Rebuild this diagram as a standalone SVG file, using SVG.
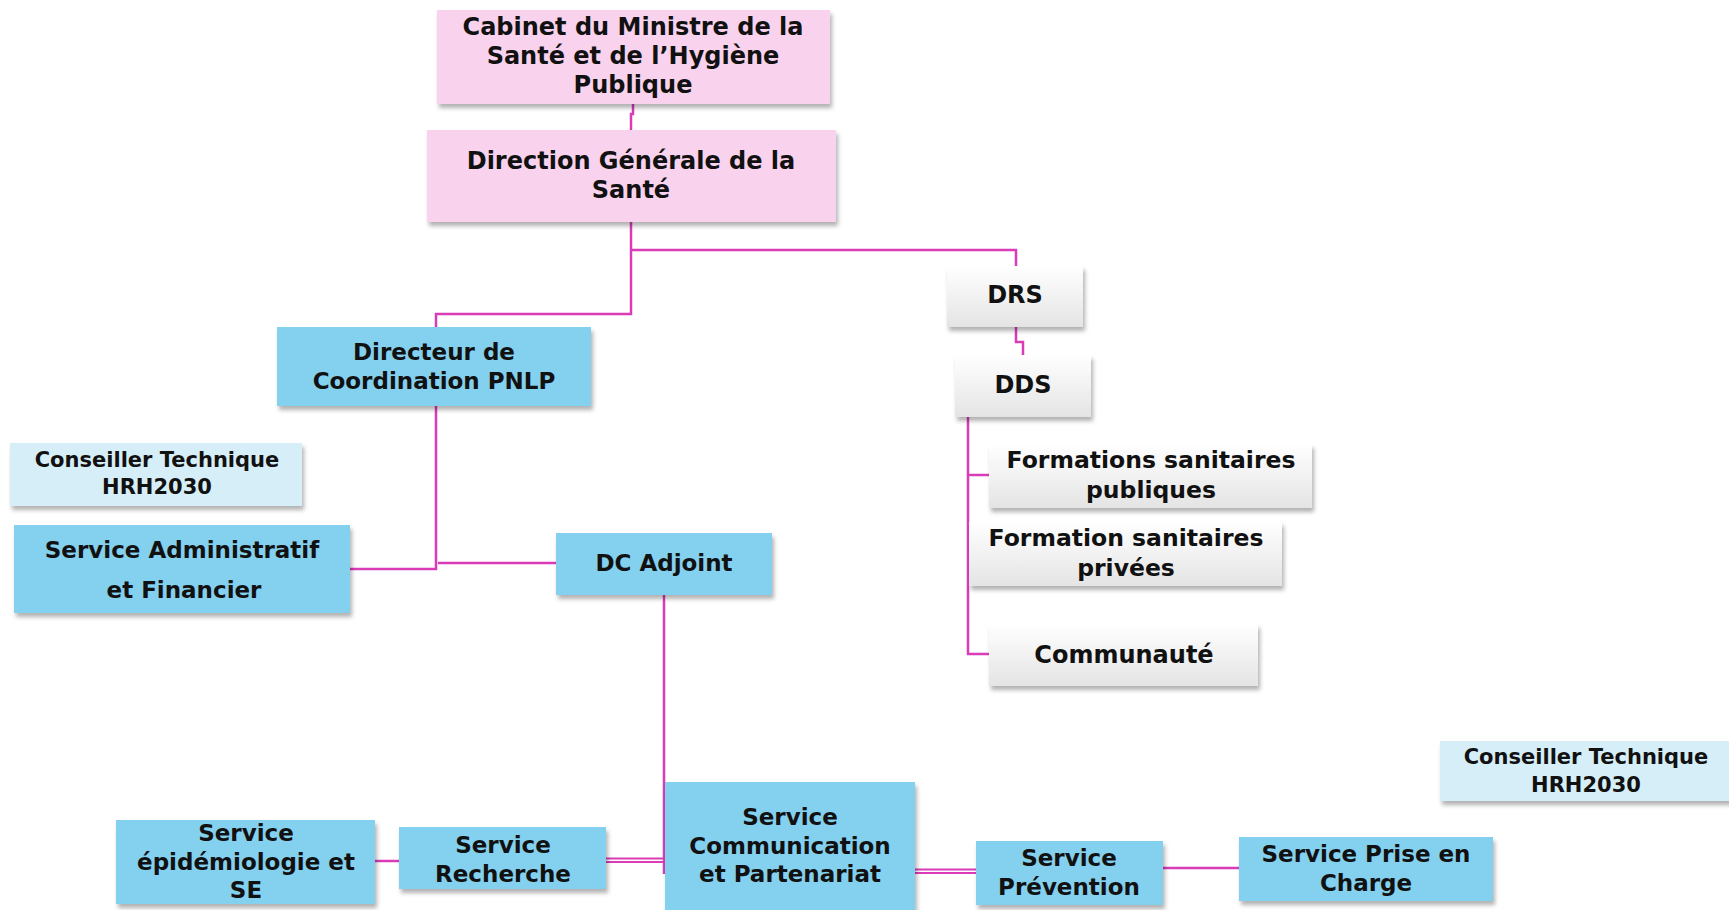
<svg xmlns="http://www.w3.org/2000/svg" width="1729" height="910" viewBox="0 0 1729 910">
<defs>
<filter id="sh" x="-10%" y="-10%" width="125%" height="140%">
<feDropShadow dx="2" dy="4" stdDeviation="2" flood-color="#000" flood-opacity="0.3"/>
</filter>
<linearGradient id="gr" x1="0" y1="0" x2="0" y2="1">
<stop offset="0" stop-color="#FFFFFF"/>
<stop offset="1" stop-color="#E4E4E4"/>
</linearGradient>
<style>
.pink{fill:#F9D3EE;filter:url(#sh)}
.blue{fill:#83D0EF;filter:url(#sh)}
.lblue{fill:#D6EEF8;filter:url(#sh)}
.gray{fill:url(#gr);filter:url(#sh)}
text{font-family:"DejaVu Sans","Liberation Sans",sans-serif;font-weight:bold;fill:#111;text-anchor:middle;font-size:23px}
.t24{font-size:24px}
.tg{font-size:23.5px}
.t22{font-size:21px}
.c{fill:none;stroke:#D93CB6;stroke-width:2.5}
.d{fill:none;stroke:#D93CB6;stroke-width:1.8}
</style>
</defs>
<rect width="1729" height="910" fill="#fff"/>
<g id="connectors">
<path class="c" d="M633,104 V114 H631 V130"/>
<path class="c" d="M631,222 V314 H436 V327"/>
<path class="c" d="M631,250 H1016 V266"/>
<path class="c" d="M1016,327 V342 H1023 V355"/>
<path class="c" d="M968,417 V654 H989"/>
<path class="c" d="M968,475 H989"/>
<path class="c" d="M436,406 V569 H350"/>
<path class="c" d="M438,563 H556"/>
<path class="c" d="M664,595 V874"/>
<path class="d" d="M606,858.5 H665 M606,862 H665"/>
<path class="c" d="M375,861 H399"/>
<path class="d" d="M915,869.5 H976 M915,873 H976"/>
<path class="c" d="M1163,868 H1239"/>
</g>
<g id="cabinet"><rect class="pink" x="437" y="10" width="393" height="94"/>
<text class="t24" x="633" y="35">Cabinet du Ministre de la</text>
<text class="t24" x="633" y="64">Santé et de l’Hygiène</text>
<text class="t24" x="633" y="93">Publique</text></g>
<g id="dgs"><rect class="pink" x="427" y="130" width="409" height="92"/>
<text class="t24" x="631" y="169">Direction Générale de la</text>
<text class="t24" x="631" y="198">Santé</text></g>
<g id="drs"><rect class="gray" x="947" y="266" width="136" height="61"/>
<text class="t24" x="1015" y="303">DRS</text></g>
<g id="dds"><rect class="gray" x="955" y="355" width="136" height="62"/>
<text class="t24" x="1023" y="393">DDS</text></g>
<g id="directeur"><rect class="blue" x="277" y="327" width="314" height="79"/>
<text x="434" y="360">Directeur de</text>
<text x="434" y="389">Coordination PNLP</text></g>
<g id="conseiller1"><rect class="lblue" x="10" y="443" width="292" height="63"/>
<text class="t22" x="157" y="467">Conseiller Technique</text>
<text class="t22" x="157" y="494">HRH2030</text></g>
<g id="saf"><rect class="blue" x="14" y="525" width="336" height="88"/>
<text x="182" y="558">Service Administratif</text>
<text x="184" y="598">et Financier</text></g>
<g id="dcadjoint"><rect class="blue" x="556" y="533" width="216" height="62"/>
<text x="664" y="571">DC Adjoint</text></g>
<g id="fspub"><rect class="gray" x="989" y="444" width="323" height="64"/>
<text class="tg" x="1151" y="468">Formations sanitaires</text>
<text class="tg" x="1151" y="498">publiques</text></g>
<g id="fspriv"><rect class="gray" x="969" y="522" width="313" height="64"/>
<text class="tg" x="1126" y="546">Formation sanitaires</text>
<text class="tg" x="1126" y="576">privées</text></g>
<g id="communaute"><rect class="gray" x="989" y="624" width="269" height="62"/>
<text class="t24" x="1124" y="663">Communauté</text></g>
<g id="conseiller2"><rect class="lblue" x="1440" y="741" width="295" height="60"/>
<text class="t22" x="1586" y="764">Conseiller Technique</text>
<text class="t22" x="1586" y="792">HRH2030</text></g>
<g id="epid"><rect class="blue" x="116" y="820" width="259" height="84"/>
<text x="246" y="841">Service</text>
<text x="246" y="870">épidémiologie et</text>
<text x="246" y="898">SE</text></g>
<g id="recherche"><rect class="blue" x="399" y="827" width="207" height="62"/>
<text x="503" y="853">Service</text>
<text x="503" y="882">Recherche</text></g>
<g id="comm"><rect class="blue" x="665" y="782" width="250" height="130"/>
<text x="790" y="825">Service</text>
<text x="790" y="854">Communication</text>
<text x="790" y="882">et Partenariat</text></g>
<g id="prevention"><rect class="blue" x="976" y="841" width="187" height="64"/>
<text x="1069" y="866">Service</text>
<text x="1069" y="895">Prévention</text></g>
<g id="priseencharge"><rect class="blue" x="1239" y="837" width="254" height="64"/>
<text x="1366" y="862">Service Prise en</text>
<text x="1366" y="891">Charge</text></g>
</svg>
